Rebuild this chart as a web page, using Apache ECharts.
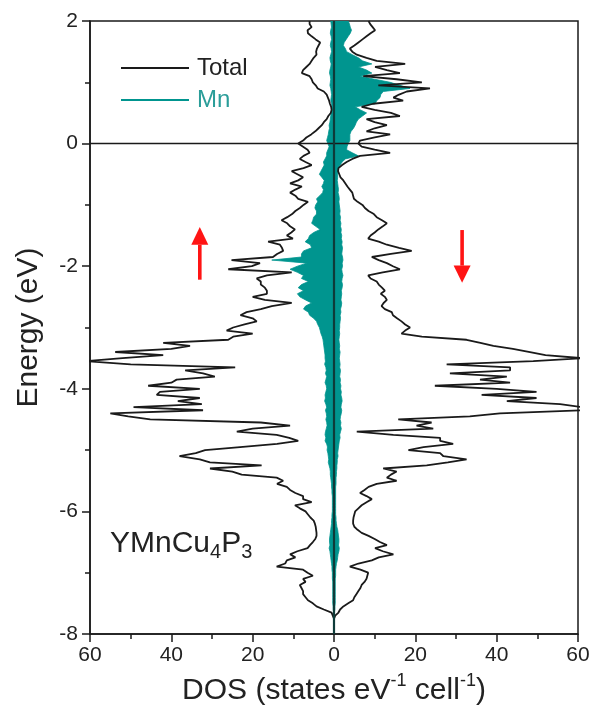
<!DOCTYPE html>
<html>
<head>
<meta charset="utf-8">
<script src="https://cdn.jsdelivr.net/npm/echarts@6/dist/echarts.min.js"></script>
<style>
  html, body { margin: 0; padding: 0; background: #ffffff; }
  #chart { width: 595px; height: 717px; }
</style>
</head>
<body>
<div id="chart"></div>
<script>
// Energy grid, top (2 eV) to bottom (-8 eV), 0.05 eV spacing
const E_TOP = 2.0, E_STEP = 0.05, N_POINTS = 201;
const energy = Array.from({ length: N_POINTS }, (_, i) => (E_TOP - i * E_STEP).toFixed(2));

// Total DOS, spin up (drawn to the left), states eV^-1 cell^-1
const totalUp = [
  6.0, 6.0, 5.5, 6.5, 6.4, 5.5, 4.5, 3.4, 3.8, 4.2,
  4.4, 4.3, 5.0, 5.5, 6.0, 6.8, 7.6, 7.9, 6.0, 5.5,
  5.2, 4.5, 4.0, 2.5, 1.8, 1.5, 1.2, 1.0, 0.7, 0.6,
  0.8, 1.4, 1.8, 2.5, 3.0, 3.8, 4.6, 5.6, 6.8, 7.6,
  8.8, 7.6, 6.5, 6.0, 7.5, 8.4, 7.0, 5.5, 7.5, 10.4,
  9.0, 7.6, 8.8, 10.8, 7.9, 9.5, 10.8, 9.5, 8.8, 6.4,
  7.5, 8.4, 9.5, 10.3, 11.5, 12.9, 11.5, 10.8, 9.6, 10.5,
  11.6, 10.1, 16.2, 13.3, 12.8, 12.5, 14.0, 15.0, 25.2, 18.2,
  20.2, 26.0, 10.4, 16.5, 19.0, 18.0, 18.0, 17.0, 16.5, 16.5,
  20.0, 17.0, 10.4, 15.3, 18.0, 21.5, 23.0, 20.0, 19.0, 22.0,
  24.8, 26.4, 20.0, 24.8, 26.0, 42.0, 35.4, 40.0, 53.8, 42.0,
  52.0, 61.0, 50.0, 24.3, 36.6, 32.2, 29.3, 38.7, 40.0, 45.7,
  33.0, 42.8, 43.6, 33.0, 38.4, 32.5, 49.3, 32.2, 55.0, 50.6,
  45.2, 18.0, 10.8, 20.0, 23.9, 14.1, 11.0, 8.8, 14.0, 23.1,
  31.7, 34.0, 38.0, 33.0, 30.5, 17.8, 30.5, 25.0, 22.7, 14.1,
  12.5, 14.0, 11.6, 10.8, 9.5, 7.6, 7.6, 5.5, 9.6, 8.4,
  7.0, 6.4, 5.8, 5.0, 4.7, 4.5, 4.4, 4.3, 4.3, 4.6,
  5.2, 5.9, 6.5, 9.0, 10.8, 9.5, 11.6, 12.0, 14.1, 7.6,
  6.5, 5.2, 7.6, 7.0, 8.4, 8.0, 7.6, 7.6, 7.0, 6.4,
  5.2, 4.3, 2.5, 0.6, 0.3, 0.0, 0.0, 0.0, 0.0, 0.0,
  0.0
];

// Total DOS, spin down (drawn to the right)
const totalDown = [
  8.5, 8.9, 9.5, 10.1, 9.0, 8.0, 7.0, 6.0, 5.0, 3.9,
  4.5, 5.6, 8.0, 10.5, 17.5, 10.1, 13.0, 16.2, 7.2, 15.4,
  21.6, 10.9, 23.6, 17.9, 16.0, 14.6, 17.0, 9.6, 6.8, 10.0,
  14.0, 16.2, 8.0, 10.0, 13.0, 10.0, 8.0, 13.8, 10.0, 6.4,
  6.0, 6.8, 10.0, 13.8, 6.4, 4.5, 3.1, 2.0, 1.1, 1.0,
  1.3, 1.6, 2.3, 2.8, 3.3, 3.9, 4.5, 4.7, 4.9, 5.8,
  7.0, 7.6, 8.5, 9.8, 10.5, 11.8, 13.0, 12.0, 10.9, 10.0,
  9.0, 8.4, 11.0, 13.0, 16.0, 19.1, 14.0, 9.3, 11.0, 13.0,
  14.5, 16.2, 12.0, 8.4, 9.0, 10.5, 11.0, 11.8, 12.5, 11.5,
  12.5, 13.0, 12.2, 11.7, 12.5, 14.2, 14.5, 15.5, 16.6, 17.5,
  18.7, 17.5, 16.6, 21.6, 32.6, 36.0, 39.2, 44.0, 48.2, 52.0,
  61.0, 49.0, 27.7, 43.3, 43.3, 28.5, 42.5, 35.9, 43.3, 24.8,
  40.0, 49.8, 36.3, 49.8, 42.5, 55.6, 61.0, 61.0, 40.8, 33.4,
  15.8, 24.0, 20.3, 24.4, 5.6, 14.6, 26.1, 26.1, 29.3, 22.0,
  18.3, 26.1, 26.9, 32.6, 28.0, 22.8, 12.1, 15.4, 14.0, 13.0,
  15.4, 10.5, 8.5, 7.5, 6.4, 8.0, 9.3, 8.0, 6.8, 6.0,
  5.2, 5.0, 4.8, 4.7, 4.7, 5.0, 5.8, 6.8, 8.5, 10.0,
  11.3, 13.0, 10.1, 12.0, 14.6, 11.0, 9.3, 6.0, 3.9, 6.5,
  8.4, 8.2, 8.0, 7.5, 6.8, 6.5, 6.0, 5.5, 5.0, 4.7,
  3.5, 2.3, 1.5, 1.1, 0.3, 0.0, 0.0, 0.0, 0.0, 0.0,
  0.0
];

// Mn partial DOS, spin up
const mnUp = [
  0.8, 0.7, 0.6, 0.8, 0.9, 0.7, 0.6, 0.8, 0.9, 0.7,
  0.6, 0.8, 1.0, 0.9, 0.7, 0.8, 1.0, 1.1, 0.9, 0.8,
  0.9, 1.0, 0.8, 0.7, 0.6, 0.7, 0.8, 0.6, 0.5, 0.6,
  0.7, 0.8, 0.9, 1.0, 1.2, 1.1, 1.3, 1.4, 1.6, 1.8,
  1.5, 1.2, 1.5, 1.8, 1.8, 2.2, 2.6, 2.4, 2.8, 3.2,
  3.6, 3.0, 2.4, 2.6, 3.0, 2.6, 2.8, 3.5, 4.3, 4.0,
  4.5, 4.7, 4.3, 4.3, 5.0, 5.2, 5.5, 4.5, 3.4, 5.0,
  6.0, 6.3, 7.1, 5.8, 5.5, 7.5, 8.0, 8.0, 15.3, 6.7,
  9.0, 10.8, 9.0, 7.5, 8.0, 6.3, 8.0, 8.8, 7.5, 9.0,
  8.4, 7.0, 5.5, 7.0, 7.5, 6.3, 6.0, 5.0, 4.3, 4.0,
  3.6, 3.4, 3.2, 2.9, 2.7, 2.6, 2.5, 2.4, 2.3, 2.2,
  2.2, 2.1, 2.3, 2.0, 1.9, 2.1, 1.8, 2.0, 2.2, 1.9,
  1.8, 2.0, 2.2, 2.1, 2.3, 2.0, 1.8, 2.1, 1.9, 1.8,
  2.0, 1.8, 1.7, 1.9, 2.1, 2.2, 2.0, 2.2, 1.8, 1.6,
  1.7, 1.5, 1.4, 1.3, 1.4, 1.2, 1.0, 0.9, 0.9, 0.8,
  0.7, 0.6, 0.6, 0.5, 0.5, 0.4, 0.4, 0.4, 0.4, 0.4,
  0.4, 0.5, 0.5, 0.6, 0.6, 0.7, 0.8, 0.9, 1.0, 1.1,
  1.1, 1.0, 1.2, 1.0, 0.9, 0.8, 0.7, 0.6, 0.5, 0.5,
  0.4, 0.4, 0.4, 0.3, 0.3, 0.3, 0.3, 0.3, 0.3, 0.3,
  0.3, 0.2, 0.2, 0.1, 0.1, 0.0, 0.0, 0.0, 0.0, 0.0,
  0.0
];

// Mn partial DOS, spin down
const mnDown = [
  3.5, 3.8, 4.0, 4.3, 4.0, 3.5, 3.0, 2.5, 2.3, 2.8,
  3.1, 4.5, 6.0, 7.0, 9.3, 6.0, 8.0, 9.3, 6.4, 10.0,
  13.8, 16.2, 18.7, 12.1, 11.5, 11.3, 10.5, 10.1, 5.2, 6.5,
  8.0, 7.0, 6.0, 5.5, 5.2, 4.8, 4.2, 3.9, 3.9, 3.9,
  3.5, 3.2, 3.1, 4.5, 6.0, 2.8, 2.0, 1.5, 1.1, 1.0,
  0.9, 0.9, 0.8, 0.9, 1.0, 1.1, 1.0, 1.2, 1.3, 1.2,
  1.3, 1.4, 1.5, 1.4, 1.6, 1.5, 1.7, 1.6, 1.8, 1.7,
  1.9, 1.8, 2.0, 1.9, 2.1, 2.0, 1.9, 2.1, 2.2, 2.0,
  2.1, 1.9, 2.0, 2.2, 2.0, 1.9, 2.1, 2.0, 1.8, 1.9,
  1.8, 1.7, 1.9, 1.8, 1.6, 1.7, 1.5, 1.6, 1.5, 1.4,
  1.4, 1.3, 1.4, 1.3, 1.2, 1.3, 1.4, 1.3, 1.5, 1.4,
  1.3, 1.4, 1.5, 1.4, 1.6, 1.5, 1.4, 1.6, 1.5, 1.7,
  1.6, 1.8, 1.7, 1.9, 2.0, 1.8, 1.7, 1.9, 1.8, 1.6,
  1.5, 1.7, 1.6, 1.8, 1.6, 1.4, 1.5, 1.3, 1.2, 1.1,
  1.0, 0.9, 1.0, 0.8, 0.8, 0.7, 0.7, 0.6, 0.6, 0.5,
  0.5, 0.5, 0.4, 0.4, 0.4, 0.4, 0.4, 0.4, 0.4, 0.4,
  0.4, 0.4, 0.5, 0.5, 0.6, 0.7, 0.9, 1.0, 1.1, 1.2,
  1.2, 1.1, 1.3, 1.2, 1.0, 0.9, 0.8, 0.6, 0.5, 0.4,
  0.4, 0.4, 0.3, 0.3, 0.3, 0.3, 0.3, 0.3, 0.3, 0.3,
  0.3, 0.2, 0.2, 0.1, 0.1, 0.0, 0.0, 0.0, 0.0, 0.0,
  0.0
];

// Axis ticks and their printed labels (DOS shown as magnitude on both sides)
const xTickValues = [-60, -40, -20, 0, 20, 40, 60];
const xTickLabels = ['60', '40', '20', '0', '20', '40', '60'];
const yTickValues = [-8, -6, -4, -2, 0, 2];
const yTickLabels = ['-8', '-6', '-4', '-2', '0', '2'];

// Spin-direction arrows, in data units: [x, tip energy, head-base energy, tail energy]
const spinUpArrow = [-33, -1.36, -1.65, -2.22];
const spinDownArrow = [31.5, -2.27, -1.99, -1.41];

// Compound formula: [text, isSubscript]
const formulaParts = [['YMnCu', false], ['4', true], ['P', false], ['3', true]];

const FONT = '"Liberation Sans", Arial, Helvetica, sans-serif';
const INK = '#1a1a1a';
const TEAL = '#00958f';
const TEAL_TEXT = '#2a9d99';
const ARROW_RED = '#ff1414';

const toLeft = arr => arr.map((v, i) => [-v, i]);
const toRight = arr => arr.map((v, i) => [v, i]);

const chart = echarts.init(document.getElementById('chart'), null, { renderer: 'canvas' });

const option = {
  animation: false,
  backgroundColor: '#ffffff',
  grid: {
    left: 90, right: 17, top: 21, bottom: 83,
    show: true, borderColor: INK, borderWidth: 1.5, backgroundColor: 'transparent'
  },
  legend: {
    orient: 'vertical',
    left: 121, top: 56,
    padding: 0,
    itemWidth: 68, itemHeight: 2, itemGap: 8,
    icon: 'rect',
    selectedMode: false,
    textStyle: { fontFamily: FONT, fontSize: 24, lineHeight: 24, padding: [0, 0, 0, 3] },
    data: [
      { name: 'Total', textStyle: { color: '#222222' } },
      { name: 'Mn', textStyle: { color: TEAL_TEXT } }
    ]
  },
  xAxis: {
    type: 'value', min: -60, max: 60, interval: 20,
    axisLine: { show: true, onZero: false, lineStyle: { color: INK, width: 1.5 } },
    axisTick: { show: true, length: 8, lineStyle: { color: INK, width: 1.5 } },
    minorTick: { show: true, splitNumber: 2, length: 5, lineStyle: { color: INK, width: 1.5 } },
    splitLine: { show: false },
    axisLabel: {
      fontFamily: FONT, fontSize: 21, color: '#222222', margin: 11,
      formatter: v => { const k = xTickValues.indexOf(v); return k >= 0 ? xTickLabels[k] : ''; }
    },
    name: '{t|DOS (states eV}{s|-1}{t| cell}{s|-1}{t|)}',
    nameLocation: 'middle', nameGap: 38,
    nameTextStyle: {
      fontFamily: FONT, fontSize: 30, color: '#222222',
      rich: {
        t: { fontFamily: FONT, fontSize: 30, color: '#222222', lineHeight: 34, verticalAlign: 'bottom' },
        s: { fontFamily: FONT, fontSize: 18, color: '#222222', lineHeight: 20, verticalAlign: 'top' }
      }
    }
  },
  yAxis: [
    {
      // energy samples of the DOS curves
      type: 'category', data: energy, inverse: true, boundaryGap: false, show: false,
      position: 'left'
    },
    {
      type: 'value', min: -8, max: 2, interval: 2, position: 'left',
      axisLine: { show: true, onZero: false, lineStyle: { color: INK, width: 1.5 } },
      axisTick: { show: true, length: 8, lineStyle: { color: INK, width: 1.5 } },
      minorTick: { show: true, splitNumber: 2, length: 5, lineStyle: { color: INK, width: 1.5 } },
      splitLine: { show: false },
      axisLabel: {
        fontFamily: FONT, fontSize: 21, color: '#222222', margin: 12,
        formatter: v => { const k = yTickValues.indexOf(v); return k >= 0 ? yTickLabels[k] : ''; }
      },
      name: 'Energy (eV)',
      nameLocation: 'middle', nameGap: 46, nameRotate: 90,
      nameTextStyle: { fontFamily: FONT, fontSize: 30, color: '#222222' }
    }
  ],
  series: [
    {
      name: 'Mn', type: 'line', yAxisIndex: 0, data: toLeft(mnUp),
      symbol: 'none', z: 2,
      itemStyle: { color: TEAL },
      lineStyle: { color: TEAL, width: 0.8 },
      areaStyle: { color: TEAL, opacity: 1 }
    },
    {
      name: 'Mn', type: 'line', yAxisIndex: 0, data: toRight(mnDown),
      symbol: 'none', z: 2,
      itemStyle: { color: TEAL },
      lineStyle: { color: TEAL, width: 0.8 },
      areaStyle: { color: TEAL, opacity: 1 }
    },
    {
      name: 'Total', type: 'line', yAxisIndex: 0, data: toLeft(totalUp),
      symbol: 'none', z: 4,
      itemStyle: { color: INK },
      lineStyle: { color: INK, width: 1.8 }
    },
    {
      name: 'Total', type: 'line', yAxisIndex: 0, data: toRight(totalDown),
      symbol: 'none', z: 4,
      itemStyle: { color: INK },
      lineStyle: { color: INK, width: 1.8 }
    },
    {
      // Fermi level
      name: 'EF', type: 'line', yAxisIndex: 1, data: [[-60, 0], [60, 0]],
      symbol: 'none', silent: true, z: 5,
      lineStyle: { color: INK, width: 1.5 }
    },
    {
      // zero-DOS divider between the spin channels
      name: 'zero', type: 'line', yAxisIndex: 1, data: [[0, -8], [0, 2]],
      symbol: 'none', silent: true, z: 5,
      lineStyle: { color: '#0e3b39', width: 2.2 }
    }
  ]
};

chart.setOption(option);

// Annotations placed from data coordinates
function toPx(x, e) {
  return chart.convertToPixel({ xAxisIndex: 0, yAxisIndex: 1 }, [x, e]);
}
function arrowShapes(spec) {
  const [x, eTip, eBase, eTail] = spec;
  const tip = toPx(x, eTip), base = toPx(x, eBase), tail = toPx(x, eTail);
  const halfHead = 8.5, halfShaft = 1.8;
  const y0 = Math.min(base[1], tail[1]), y1 = Math.max(base[1], tail[1]);
  return [
    {
      type: 'polygon', silent: true,
      shape: { points: [[tip[0], tip[1]], [tip[0] - halfHead, base[1]], [tip[0] + halfHead, base[1]]] },
      style: { fill: ARROW_RED }
    },
    {
      type: 'rect', silent: true,
      shape: { x: tip[0] - halfShaft, y: y0, width: halfShaft * 2, height: y1 - y0 },
      style: { fill: ARROW_RED }
    }
  ];
}

// Formula label with true subscripts: pieces laid out left to right on a baseline.
// Each piece is vertically centred; the centre sits about 0.31 em above the baseline.
function formulaShapes(parts, left, baseline) {
  const ctx = document.createElement('canvas').getContext('2d');
  const MAIN = 30, SUB = 20, SUB_DROP = 6;
  const out = [];
  let x = left;
  for (const [str, isSub] of parts) {
    const size = isSub ? SUB : MAIN;
    const base = baseline + (isSub ? SUB_DROP : 0);
    ctx.font = size + 'px ' + FONT;
    out.push({
      type: 'text', silent: true, x: x, y: base - 0.31 * size,
      style: {
        text: str, fontFamily: FONT, fontSize: size, fill: '#222222',
        align: 'left', verticalAlign: 'middle'
      }
    });
    x += ctx.measureText(str).width;
  }
  return out;
}

chart.setOption({
  graphic: [
    ...arrowShapes(spinUpArrow),
    ...arrowShapes(spinDownArrow),
    ...formulaShapes(formulaParts, 110, 553)
  ]
});
</script>
</body>
</html>
